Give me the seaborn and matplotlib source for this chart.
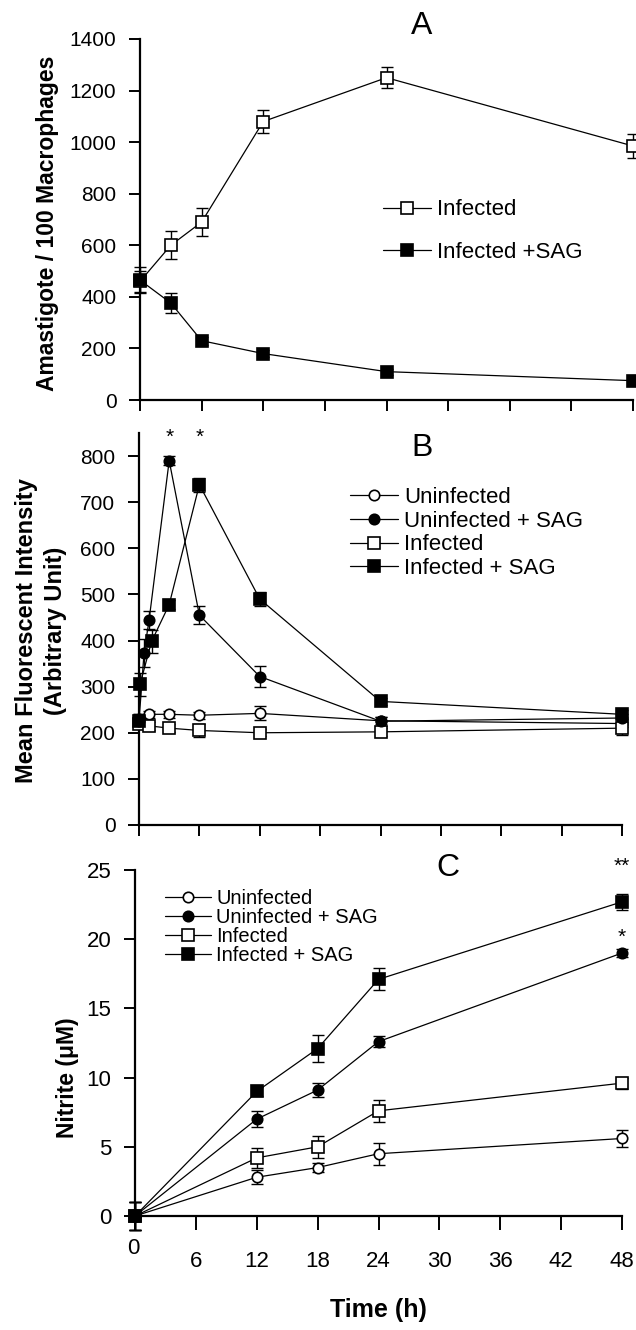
import numpy as np
import pandas as pd
import matplotlib
matplotlib.use("Agg")
import matplotlib.pyplot as plt
import seaborn as sns
from matplotlib.lines import Line2D
from matplotlib.transforms import ScaledTranslation

sns.set_theme(style="ticks")
plt.rcParams["font.family"] = ["Liberation Sans", "DejaVu Sans"]
plt.rcParams["text.color"] = "black"
plt.rcParams["axes.labelcolor"] = "black"

# ---------------- Data ----------------
# Panel A: amastigotes / 100 macrophages
a_time = [0, 3, 6, 12, 24, 48]
a_inf = [460, 600, 690, 1080, 1250, 985]
a_inf_err = [40, 55, 55, 45, 40, 45]
a_inf_sag = [465, 376, 230, 180, 110, 75]
a_inf_sag_err = [50, 40, 15, 15, 12, 10]

# Panel B: mean fluorescent intensity
b_unin_t = [0, 1, 3, 6, 12, 24, 48]
b_unin = [230, 240, 240, 238, 242, 226, 220]
b_unin_err = [10, 8, 8, 8, 15, 8, 8]
b_unin_sag_t = [0, 0.5, 1, 3, 6, 12, 24, 48]
b_unin_sag = [225, 373, 444, 790, 455, 322, 225, 232]
b_unin_sag_err = [15, 30, 20, 10, 20, 22, 10, 8]
b_inf_t = [0, 1, 3, 6, 12, 24, 48]
b_inf = [220, 215, 210, 205, 200, 202, 210]
b_inf_err = [10, 8, 8, 15, 8, 8, 15]
b_inf_sag_t = [0, 0.1, 1.25, 3, 6, 12, 24, 48]
b_inf_sag = [225, 305, 398, 478, 738, 490, 268, 240]
b_inf_sag_err = [10, 25, 25, 10, 15, 15, 8, 10]

# Panel C: nitrite (uM)
c_time = [0, 12, 18, 24, 48]
c_unin = [0, 2.8, 3.5, 4.5, 5.6]
c_unin_err = [1.0, 0.5, 0.3, 0.8, 0.6]
c_unin_sag = [0, 7.0, 9.1, 12.6, 19.0]
c_unin_sag_err = [1.0, 0.6, 0.5, 0.4, 0.3]
c_inf = [0, 4.2, 5.0, 7.6, 9.6]
c_inf_err = [1.0, 0.7, 0.8, 0.8, 0.4]
c_inf_sag = [0, 9.0, 12.1, 17.1, 22.7]
c_inf_sag_err = [1.0, 0.3, 1.0, 0.8, 0.6]

x_ticks = [0, 6, 12, 18, 24, 30, 36, 42, 48]
lab_unin = "Uninfected"
lab_unin_sag = "Uninfected + SAG"
lab_inf = "Infected"
lab_inf_sag = "Infected + SAG"

# ---------------- Figure ----------------
W, H = 636, 1330
fig = plt.figure(figsize=(W / 100, H / 100), dpi=100)


def add_ax(left, right, top, bottom):
    return fig.add_axes([left / W, 1 - bottom / H, (right - left) / W, (bottom - top) / H])


axA = add_ax(140, 633, 39, 400)
axB = add_ax(139, 622, 433, 825)
axC = add_ax(135, 622, 870, 1216)

LW = 0.9


def series(ax, t, y, err, marker, filled, ms):
    eb = ax.errorbar(t, y, yerr=err, fmt="none", ecolor="black", elinewidth=1.0,
                     capsize=4, capthick=1.0, zorder=2)
    for art in list(eb.lines[1]) + list(eb.lines[2]):
        art.set_clip_on(False)
    sns.lineplot(x=t, y=y, ax=ax, color="black", marker=marker, markersize=ms,
                 markerfacecolor="black" if filled else "white",
                 markeredgecolor="black", markeredgewidth=1.2, linewidth=LW,
                 estimator=None, sort=False, clip_on=False, zorder=3)


def handle(marker, filled, ms):
    return Line2D([0], [0], color="black", lw=LW, marker=marker, markersize=ms,
                  markerfacecolor="black" if filled else "white",
                  markeredgecolor="black", markeredgewidth=1.2)


SQ = 8.5
CI = 7.5

for ax in (axA, axB, axC):
    ax.set_xlim(0, 48)
    ax.set_xticks(x_ticks)
    for s in ("left", "bottom"):
        ax.spines[s].set_linewidth(1.6)
        ax.spines[s].set_color("black")
    sns.despine(ax=ax)
    ax.tick_params(direction="out", length=8, width=1.4, color="black",
                   labelsize=15, pad=9, labelcolor="black")
    ax.set_facecolor("white")

# ---- Panel A ----
series(axA, a_time, a_inf, a_inf_err, "s", False, SQ)
series(axA, a_time, a_inf_sag, a_inf_sag_err, "s", True, SQ)
axA.set_ylim(0, 1400)
axA.set_yticks(range(0, 1401, 200))
axA.tick_params(axis="x", labelbottom=False)
axA.set_ylabel("Amastigote / 100 Macrophages", fontsize=16.5, fontweight="bold", va="center")
axA.yaxis.set_label_coords(-0.187, 0.49)
fig.text(422 / W, 1 - 26 / H, "A", fontsize=23, ha="center", va="center")
axA.legend([handle("s", False, SQ), handle("s", True, SQ)],
           [lab_inf, "Infected +SAG"],
           loc="center left", bbox_to_anchor=(383 / W, 1 - 231 / H),
           bbox_transform=fig.transFigure, frameon=False, fontsize=16,
           handlelength=2.15, handletextpad=0.3, labelspacing=0.95,
           borderpad=0, borderaxespad=0)

# ---- Panel B ----
series(axB, b_unin_t, b_unin, b_unin_err, "o", False, CI)
series(axB, b_inf_t, b_inf, b_inf_err, "s", False, SQ)
series(axB, b_unin_sag_t, b_unin_sag, b_unin_sag_err, "o", True, CI)
series(axB, b_inf_sag_t, b_inf_sag, b_inf_sag_err, "s", True, SQ)
axB.set_ylim(0, 850)
axB.set_yticks(range(0, 801, 100))
axB.tick_params(axis="x", labelbottom=False)
axB.set_ylabel("Mean Fluorescent Intensity\n(Arbitrary Unit)", fontsize=17,
               fontweight="bold", va="center", ha="center", linespacing=1.3)
axB.yaxis.set_label_coords(-0.203, 0.495)
axB.text(3, 840, "*", fontsize=15, ha="center", va="center")
axB.text(6, 840, "*", fontsize=15, ha="center", va="center")
fig.text(422 / W, 1 - 448 / H, "B", fontsize=23, ha="center", va="center")
axB.legend([handle("o", False, CI), handle("o", True, CI), handle("s", False, SQ), handle("s", True, SQ)],
           [lab_unin, lab_unin_sag, lab_inf, lab_inf_sag],
           loc="center left", bbox_to_anchor=(350 / W, 1 - 533 / H),
           bbox_transform=fig.transFigure, frameon=False, fontsize=16,
           handlelength=2.15, handletextpad=0.3, labelspacing=0.12,
           borderpad=0, borderaxespad=0)

# ---- Panel C ----
series(axC, c_time, c_unin, c_unin_err, "o", False, CI)
series(axC, c_time, c_inf, c_inf_err, "s", False, SQ)
series(axC, c_time, c_unin_sag, c_unin_sag_err, "o", True, CI)
series(axC, c_time, c_inf_sag, c_inf_sag_err, "s", True, SQ)
axC.set_ylim(0, 25)
axC.set_yticks(range(0, 26, 5))
axC.set_xticklabels([str(v) for v in x_ticks])
axC.tick_params(axis="x", length=10, pad=15, labelsize=16)
axC.tick_params(axis="y", labelsize=16)
lbl0 = axC.get_xticklabels()[0]
lbl0.set_transform(lbl0.get_transform() + ScaledTranslation(-0.02, 0.13, fig.dpi_scale_trans))
axC.set_ylabel("Nitrite (μM)", fontsize=16.5, fontweight="bold", va="center")
axC.yaxis.set_label_coords(-0.138, 0.399)
axC.set_xlabel("Time (h)", fontsize=18, fontweight="bold", va="center")
axC.xaxis.set_label_coords(0.499, -0.272)
axC.text(48, 25.3, "**", fontsize=15, ha="center", va="center", clip_on=False)
axC.text(48, 20.1, "*", fontsize=15, ha="center", va="center", clip_on=False)
fig.text(448 / W, 1 - 868 / H, "C", fontsize=23, ha="center", va="center")
axC.legend([handle("o", False, CI), handle("o", True, CI), handle("s", False, SQ), handle("s", True, SQ)],
           [lab_unin, lab_unin_sag, lab_inf, lab_inf_sag],
           loc="center left", bbox_to_anchor=(165 / W, 1 - 927 / H),
           bbox_transform=fig.transFigure, frameon=False, fontsize=14.5,
           handlelength=2.3, handletextpad=0.25, labelspacing=0.0,
           borderpad=0, borderaxespad=0)

fig.savefig("out.png", dpi=100, facecolor="white")
